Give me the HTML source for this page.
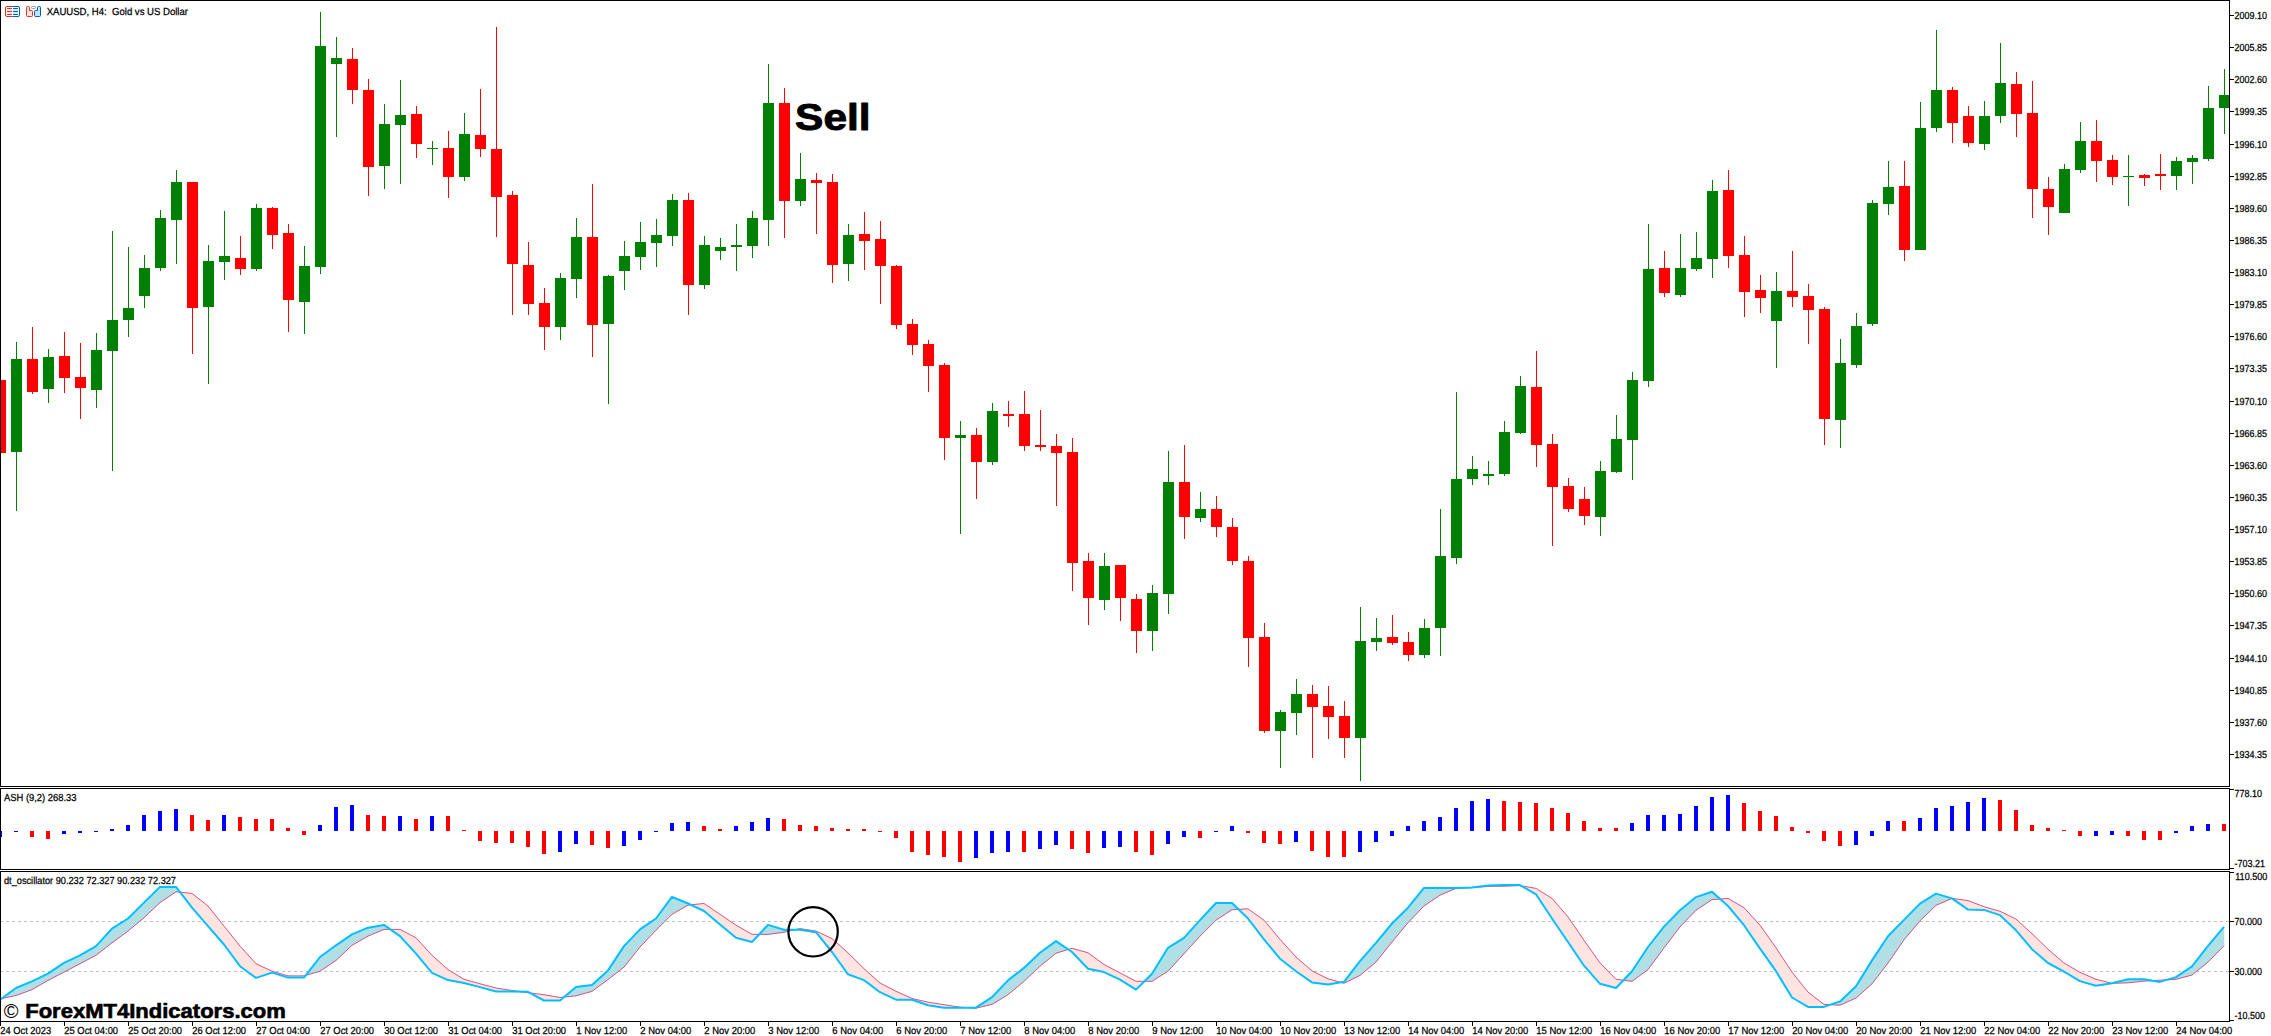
<!DOCTYPE html>
<html lang="en"><head><meta charset="utf-8"><title>XAUUSD H4 - ASH and dt_oscillator</title>
<style>html,body{margin:0;padding:0;background:#fff}body{width:2271px;height:1036px;overflow:hidden}svg{display:block}text{font-family:"Liberation Sans",sans-serif;fill:#000}.s{text-rendering:geometricPrecision;font-size:10.2px;stroke:#000;stroke-width:.25px}.g{fill:#008000}.r{fill:#ff0000}.b{fill:#0000ff}</style></head><body>
<svg width="2271" height="1036" viewBox="0 0 2271 1036">
<rect width="2271" height="1036" fill="#fff"/>
<defs><clipPath id="cm"><rect x="1" y="1" width="2228" height="785"/></clipPath><clipPath id="ca"><rect x="1" y="789" width="2228" height="80"/></clipPath><clipPath id="cd"><rect x="1" y="872" width="2228" height="149"/></clipPath></defs>
<g clip-path="url(#cm)" shape-rendering="crispEdges">
<rect class="r" x="0" y="380" width="1" height="73"/>
<rect class="r" x="-5" y="380" width="11" height="73"/>
<rect class="g" x="16" y="342" width="1" height="169"/>
<rect class="g" x="11" y="359" width="11" height="93"/>
<rect class="r" x="32" y="327" width="1" height="67"/>
<rect class="r" x="27" y="359" width="11" height="33"/>
<rect class="g" x="48" y="349" width="1" height="54"/>
<rect class="g" x="43" y="357" width="11" height="32"/>
<rect class="r" x="64" y="332" width="1" height="61"/>
<rect class="r" x="59" y="356" width="11" height="22"/>
<rect class="r" x="80" y="343" width="1" height="76"/>
<rect class="r" x="75" y="377" width="11" height="11"/>
<rect class="g" x="96" y="333" width="1" height="75"/>
<rect class="g" x="91" y="350" width="11" height="40"/>
<rect class="g" x="112" y="231" width="1" height="240"/>
<rect class="g" x="107" y="320" width="11" height="31"/>
<rect class="g" x="128" y="247" width="1" height="90"/>
<rect class="g" x="123" y="308" width="11" height="12"/>
<rect class="g" x="144" y="255" width="1" height="53"/>
<rect class="g" x="139" y="268" width="11" height="28"/>
<rect class="g" x="160" y="210" width="1" height="61"/>
<rect class="g" x="155" y="218" width="11" height="50"/>
<rect class="g" x="176" y="170" width="1" height="94"/>
<rect class="g" x="171" y="182" width="11" height="38"/>
<rect class="r" x="192" y="182" width="1" height="172"/>
<rect class="r" x="187" y="182" width="11" height="126"/>
<rect class="g" x="208" y="245" width="1" height="139"/>
<rect class="g" x="203" y="261" width="11" height="46"/>
<rect class="g" x="224" y="211" width="1" height="69"/>
<rect class="g" x="219" y="256" width="11" height="6"/>
<rect class="r" x="240" y="236" width="1" height="39"/>
<rect class="r" x="235" y="258" width="11" height="11"/>
<rect class="g" x="256" y="204" width="1" height="67"/>
<rect class="g" x="251" y="208" width="11" height="61"/>
<rect class="r" x="272" y="207" width="1" height="42"/>
<rect class="r" x="267" y="208" width="11" height="27"/>
<rect class="r" x="288" y="224" width="1" height="108"/>
<rect class="r" x="283" y="233" width="11" height="67"/>
<rect class="g" x="304" y="246" width="1" height="88"/>
<rect class="g" x="299" y="266" width="11" height="36"/>
<rect class="g" x="320" y="12" width="1" height="262"/>
<rect class="g" x="315" y="46" width="11" height="221"/>
<rect class="g" x="336" y="37" width="1" height="100"/>
<rect class="g" x="331" y="58" width="11" height="6"/>
<rect class="r" x="352" y="48" width="1" height="56"/>
<rect class="r" x="347" y="59" width="11" height="31"/>
<rect class="r" x="368" y="79" width="1" height="117"/>
<rect class="r" x="363" y="90" width="11" height="77"/>
<rect class="g" x="384" y="104" width="1" height="85"/>
<rect class="g" x="379" y="124" width="11" height="42"/>
<rect class="g" x="400" y="80" width="1" height="104"/>
<rect class="g" x="395" y="115" width="11" height="10"/>
<rect class="r" x="416" y="106" width="1" height="52"/>
<rect class="r" x="411" y="114" width="11" height="30"/>
<rect class="g" x="432" y="141" width="1" height="24"/>
<rect class="g" x="427" y="148" width="11" height="1"/>
<rect class="r" x="448" y="131" width="1" height="67"/>
<rect class="r" x="443" y="148" width="11" height="29"/>
<rect class="g" x="464" y="113" width="1" height="68"/>
<rect class="g" x="459" y="134" width="11" height="43"/>
<rect class="r" x="480" y="89" width="1" height="68"/>
<rect class="r" x="475" y="135" width="11" height="14"/>
<rect class="r" x="496" y="27" width="1" height="210"/>
<rect class="r" x="491" y="149" width="11" height="48"/>
<rect class="r" x="512" y="191" width="1" height="124"/>
<rect class="r" x="507" y="195" width="11" height="69"/>
<rect class="r" x="528" y="242" width="1" height="73"/>
<rect class="r" x="523" y="265" width="11" height="39"/>
<rect class="r" x="544" y="288" width="1" height="62"/>
<rect class="r" x="539" y="303" width="11" height="24"/>
<rect class="g" x="560" y="273" width="1" height="67"/>
<rect class="g" x="555" y="278" width="11" height="49"/>
<rect class="g" x="576" y="218" width="1" height="80"/>
<rect class="g" x="571" y="237" width="11" height="42"/>
<rect class="r" x="592" y="184" width="1" height="173"/>
<rect class="r" x="587" y="237" width="11" height="88"/>
<rect class="g" x="608" y="275" width="1" height="129"/>
<rect class="g" x="603" y="276" width="11" height="48"/>
<rect class="g" x="624" y="241" width="1" height="49"/>
<rect class="g" x="619" y="256" width="11" height="15"/>
<rect class="g" x="640" y="222" width="1" height="48"/>
<rect class="g" x="635" y="242" width="11" height="15"/>
<rect class="g" x="656" y="219" width="1" height="48"/>
<rect class="g" x="651" y="235" width="11" height="8"/>
<rect class="g" x="672" y="194" width="1" height="52"/>
<rect class="g" x="667" y="200" width="11" height="36"/>
<rect class="r" x="688" y="193" width="1" height="122"/>
<rect class="r" x="683" y="200" width="11" height="85"/>
<rect class="g" x="704" y="236" width="1" height="53"/>
<rect class="g" x="699" y="245" width="11" height="40"/>
<rect class="g" x="720" y="238" width="1" height="22"/>
<rect class="g" x="715" y="247" width="11" height="4"/>
<rect class="g" x="736" y="224" width="1" height="47"/>
<rect class="g" x="731" y="245" width="11" height="2"/>
<rect class="g" x="752" y="211" width="1" height="47"/>
<rect class="g" x="747" y="218" width="11" height="28"/>
<rect class="g" x="768" y="64" width="1" height="182"/>
<rect class="g" x="763" y="103" width="11" height="117"/>
<rect class="r" x="784" y="88" width="1" height="150"/>
<rect class="r" x="779" y="103" width="11" height="98"/>
<rect class="g" x="800" y="153" width="1" height="53"/>
<rect class="g" x="795" y="179" width="11" height="22"/>
<rect class="r" x="816" y="173" width="1" height="61"/>
<rect class="r" x="811" y="180" width="11" height="3"/>
<rect class="r" x="832" y="174" width="1" height="109"/>
<rect class="r" x="827" y="182" width="11" height="83"/>
<rect class="g" x="848" y="224" width="1" height="57"/>
<rect class="g" x="843" y="235" width="11" height="29"/>
<rect class="r" x="864" y="212" width="1" height="58"/>
<rect class="r" x="859" y="234" width="11" height="7"/>
<rect class="r" x="880" y="221" width="1" height="83"/>
<rect class="r" x="875" y="239" width="11" height="27"/>
<rect class="r" x="896" y="265" width="1" height="64"/>
<rect class="r" x="891" y="266" width="11" height="59"/>
<rect class="r" x="912" y="319" width="1" height="36"/>
<rect class="r" x="907" y="324" width="11" height="21"/>
<rect class="r" x="928" y="340" width="1" height="52"/>
<rect class="r" x="923" y="344" width="11" height="22"/>
<rect class="r" x="944" y="363" width="1" height="97"/>
<rect class="r" x="939" y="365" width="11" height="73"/>
<rect class="g" x="960" y="421" width="1" height="113"/>
<rect class="g" x="955" y="435" width="11" height="3"/>
<rect class="r" x="976" y="428" width="1" height="71"/>
<rect class="r" x="971" y="435" width="11" height="27"/>
<rect class="g" x="992" y="403" width="1" height="62"/>
<rect class="g" x="987" y="411" width="11" height="51"/>
<rect class="r" x="1008" y="401" width="1" height="26"/>
<rect class="r" x="1003" y="414" width="11" height="2"/>
<rect class="r" x="1024" y="391" width="1" height="60"/>
<rect class="r" x="1019" y="414" width="11" height="32"/>
<rect class="r" x="1040" y="410" width="1" height="41"/>
<rect class="r" x="1035" y="445" width="11" height="2"/>
<rect class="r" x="1056" y="434" width="1" height="72"/>
<rect class="r" x="1051" y="446" width="11" height="7"/>
<rect class="r" x="1072" y="438" width="1" height="153"/>
<rect class="r" x="1067" y="452" width="11" height="111"/>
<rect class="r" x="1088" y="553" width="1" height="72"/>
<rect class="r" x="1083" y="561" width="11" height="37"/>
<rect class="g" x="1104" y="553" width="1" height="57"/>
<rect class="g" x="1099" y="566" width="11" height="34"/>
<rect class="r" x="1120" y="565" width="1" height="56"/>
<rect class="r" x="1115" y="565" width="11" height="33"/>
<rect class="r" x="1136" y="594" width="1" height="59"/>
<rect class="r" x="1131" y="599" width="11" height="32"/>
<rect class="g" x="1152" y="585" width="1" height="66"/>
<rect class="g" x="1147" y="593" width="11" height="38"/>
<rect class="g" x="1168" y="451" width="1" height="163"/>
<rect class="g" x="1163" y="482" width="11" height="112"/>
<rect class="r" x="1184" y="445" width="1" height="94"/>
<rect class="r" x="1179" y="482" width="11" height="35"/>
<rect class="g" x="1200" y="492" width="1" height="30"/>
<rect class="g" x="1195" y="509" width="11" height="9"/>
<rect class="r" x="1216" y="496" width="1" height="41"/>
<rect class="r" x="1211" y="509" width="11" height="18"/>
<rect class="r" x="1232" y="518" width="1" height="47"/>
<rect class="r" x="1227" y="527" width="11" height="34"/>
<rect class="r" x="1248" y="556" width="1" height="111"/>
<rect class="r" x="1243" y="561" width="11" height="77"/>
<rect class="r" x="1264" y="623" width="1" height="110"/>
<rect class="r" x="1259" y="637" width="11" height="94"/>
<rect class="g" x="1280" y="710" width="1" height="58"/>
<rect class="g" x="1275" y="712" width="11" height="19"/>
<rect class="g" x="1296" y="679" width="1" height="56"/>
<rect class="g" x="1291" y="694" width="11" height="19"/>
<rect class="r" x="1312" y="685" width="1" height="73"/>
<rect class="r" x="1307" y="694" width="11" height="13"/>
<rect class="r" x="1328" y="686" width="1" height="53"/>
<rect class="r" x="1323" y="706" width="11" height="11"/>
<rect class="r" x="1344" y="701" width="1" height="57"/>
<rect class="r" x="1339" y="716" width="11" height="22"/>
<rect class="g" x="1360" y="607" width="1" height="174"/>
<rect class="g" x="1355" y="641" width="11" height="97"/>
<rect class="g" x="1376" y="618" width="1" height="33"/>
<rect class="g" x="1371" y="638" width="11" height="4"/>
<rect class="r" x="1392" y="615" width="1" height="30"/>
<rect class="r" x="1387" y="637" width="11" height="6"/>
<rect class="r" x="1408" y="632" width="1" height="29"/>
<rect class="r" x="1403" y="642" width="11" height="13"/>
<rect class="g" x="1424" y="619" width="1" height="39"/>
<rect class="g" x="1419" y="628" width="11" height="27"/>
<rect class="g" x="1440" y="509" width="1" height="147"/>
<rect class="g" x="1435" y="556" width="11" height="72"/>
<rect class="g" x="1456" y="392" width="1" height="172"/>
<rect class="g" x="1451" y="479" width="11" height="79"/>
<rect class="g" x="1472" y="456" width="1" height="29"/>
<rect class="g" x="1467" y="469" width="11" height="10"/>
<rect class="g" x="1488" y="461" width="1" height="24"/>
<rect class="g" x="1483" y="474" width="11" height="2"/>
<rect class="g" x="1504" y="421" width="1" height="55"/>
<rect class="g" x="1499" y="432" width="11" height="42"/>
<rect class="g" x="1520" y="376" width="1" height="58"/>
<rect class="g" x="1515" y="386" width="11" height="47"/>
<rect class="r" x="1536" y="351" width="1" height="116"/>
<rect class="r" x="1531" y="387" width="11" height="58"/>
<rect class="r" x="1552" y="434" width="1" height="112"/>
<rect class="r" x="1547" y="444" width="11" height="43"/>
<rect class="r" x="1568" y="478" width="1" height="34"/>
<rect class="r" x="1563" y="486" width="11" height="23"/>
<rect class="r" x="1584" y="487" width="1" height="38"/>
<rect class="r" x="1579" y="499" width="11" height="17"/>
<rect class="g" x="1600" y="461" width="1" height="75"/>
<rect class="g" x="1595" y="471" width="11" height="46"/>
<rect class="g" x="1616" y="415" width="1" height="58"/>
<rect class="g" x="1611" y="439" width="11" height="33"/>
<rect class="g" x="1632" y="372" width="1" height="108"/>
<rect class="g" x="1627" y="380" width="11" height="60"/>
<rect class="g" x="1648" y="224" width="1" height="163"/>
<rect class="g" x="1643" y="269" width="11" height="112"/>
<rect class="r" x="1664" y="251" width="1" height="46"/>
<rect class="r" x="1659" y="268" width="11" height="25"/>
<rect class="g" x="1680" y="234" width="1" height="63"/>
<rect class="g" x="1675" y="268" width="11" height="27"/>
<rect class="g" x="1696" y="232" width="1" height="39"/>
<rect class="g" x="1691" y="258" width="11" height="11"/>
<rect class="g" x="1712" y="180" width="1" height="98"/>
<rect class="g" x="1707" y="191" width="11" height="68"/>
<rect class="r" x="1728" y="170" width="1" height="98"/>
<rect class="r" x="1723" y="190" width="11" height="66"/>
<rect class="r" x="1744" y="236" width="1" height="81"/>
<rect class="r" x="1739" y="255" width="11" height="37"/>
<rect class="r" x="1760" y="275" width="1" height="38"/>
<rect class="r" x="1755" y="290" width="11" height="8"/>
<rect class="g" x="1776" y="272" width="1" height="96"/>
<rect class="g" x="1771" y="291" width="11" height="30"/>
<rect class="r" x="1792" y="251" width="1" height="56"/>
<rect class="r" x="1787" y="291" width="11" height="6"/>
<rect class="r" x="1808" y="284" width="1" height="60"/>
<rect class="r" x="1803" y="296" width="11" height="14"/>
<rect class="r" x="1824" y="307" width="1" height="138"/>
<rect class="r" x="1819" y="309" width="11" height="110"/>
<rect class="g" x="1840" y="339" width="1" height="109"/>
<rect class="g" x="1835" y="363" width="11" height="57"/>
<rect class="g" x="1856" y="313" width="1" height="55"/>
<rect class="g" x="1851" y="326" width="11" height="39"/>
<rect class="g" x="1872" y="200" width="1" height="126"/>
<rect class="g" x="1867" y="203" width="11" height="121"/>
<rect class="g" x="1888" y="161" width="1" height="54"/>
<rect class="g" x="1883" y="187" width="11" height="17"/>
<rect class="r" x="1904" y="161" width="1" height="100"/>
<rect class="r" x="1899" y="186" width="11" height="64"/>
<rect class="g" x="1920" y="102" width="1" height="148"/>
<rect class="g" x="1915" y="128" width="11" height="122"/>
<rect class="g" x="1936" y="30" width="1" height="102"/>
<rect class="g" x="1931" y="90" width="11" height="38"/>
<rect class="r" x="1952" y="87" width="1" height="56"/>
<rect class="r" x="1947" y="90" width="11" height="33"/>
<rect class="r" x="1968" y="106" width="1" height="41"/>
<rect class="r" x="1963" y="116" width="11" height="27"/>
<rect class="g" x="1984" y="101" width="1" height="49"/>
<rect class="g" x="1979" y="116" width="11" height="28"/>
<rect class="g" x="2000" y="43" width="1" height="80"/>
<rect class="g" x="1995" y="83" width="11" height="33"/>
<rect class="r" x="2016" y="72" width="1" height="65"/>
<rect class="r" x="2011" y="84" width="11" height="30"/>
<rect class="r" x="2032" y="81" width="1" height="137"/>
<rect class="r" x="2027" y="113" width="11" height="76"/>
<rect class="r" x="2048" y="177" width="1" height="58"/>
<rect class="r" x="2043" y="189" width="11" height="18"/>
<rect class="g" x="2064" y="164" width="1" height="49"/>
<rect class="g" x="2059" y="169" width="11" height="44"/>
<rect class="g" x="2080" y="122" width="1" height="51"/>
<rect class="g" x="2075" y="141" width="11" height="29"/>
<rect class="r" x="2096" y="120" width="1" height="62"/>
<rect class="r" x="2091" y="141" width="11" height="20"/>
<rect class="r" x="2112" y="155" width="1" height="30"/>
<rect class="r" x="2107" y="160" width="11" height="17"/>
<rect class="g" x="2128" y="155" width="1" height="51"/>
<rect class="g" x="2123" y="176" width="11" height="1"/>
<rect class="r" x="2144" y="174" width="1" height="12"/>
<rect class="r" x="2139" y="175" width="11" height="3"/>
<rect class="r" x="2160" y="154" width="1" height="36"/>
<rect class="r" x="2155" y="174" width="11" height="2"/>
<rect class="g" x="2176" y="157" width="1" height="33"/>
<rect class="g" x="2171" y="161" width="11" height="15"/>
<rect class="g" x="2192" y="155" width="1" height="29"/>
<rect class="g" x="2187" y="158" width="11" height="4"/>
<rect class="g" x="2208" y="86" width="1" height="75"/>
<rect class="g" x="2203" y="108" width="11" height="51"/>
<rect class="g" x="2224" y="69" width="1" height="65"/>
<rect class="g" x="2219" y="95" width="11" height="13"/>
</g>
<text x="795.1" y="129.9" font-size="36.8" font-weight="bold" textLength="75.6" lengthAdjust="spacingAndGlyphs" stroke="#000" stroke-width="0.9" stroke-linejoin="round">Sell</text>
<g clip-path="url(#ca)" shape-rendering="crispEdges">
<rect class="b" x="-2" y="831" width="4" height="6"/>
<rect class="b" x="14" y="831" width="4" height="1"/>
<rect class="r" x="30" y="831" width="4" height="6"/>
<rect class="r" x="46" y="831" width="4" height="8"/>
<rect class="b" x="62" y="831" width="4" height="3"/>
<rect class="b" x="78" y="831" width="4" height="2"/>
<rect class="b" x="94" y="831" width="4" height="1"/>
<rect class="b" x="110" y="829" width="4" height="2"/>
<rect class="b" x="126" y="825" width="4" height="6"/>
<rect class="b" x="142" y="815" width="4" height="16"/>
<rect class="b" x="158" y="811" width="4" height="20"/>
<rect class="b" x="174" y="809" width="4" height="22"/>
<rect class="r" x="190" y="815" width="4" height="16"/>
<rect class="r" x="206" y="820" width="4" height="11"/>
<rect class="b" x="222" y="815" width="4" height="16"/>
<rect class="r" x="238" y="817" width="4" height="14"/>
<rect class="r" x="254" y="819" width="4" height="12"/>
<rect class="r" x="270" y="819" width="4" height="12"/>
<rect class="r" x="286" y="828" width="4" height="3"/>
<rect class="r" x="302" y="831" width="4" height="4"/>
<rect class="b" x="318" y="825" width="4" height="6"/>
<rect class="b" x="334" y="807" width="4" height="24"/>
<rect class="b" x="350" y="805" width="4" height="26"/>
<rect class="r" x="366" y="815" width="4" height="16"/>
<rect class="r" x="382" y="816" width="4" height="15"/>
<rect class="b" x="398" y="816" width="4" height="15"/>
<rect class="r" x="414" y="819" width="4" height="12"/>
<rect class="b" x="430" y="816" width="4" height="15"/>
<rect class="r" x="446" y="816" width="4" height="15"/>
<rect class="r" x="462" y="830" width="4" height="1"/>
<rect class="r" x="478" y="831" width="4" height="10"/>
<rect class="r" x="494" y="831" width="4" height="12"/>
<rect class="r" x="510" y="831" width="4" height="12"/>
<rect class="r" x="526" y="831" width="4" height="16"/>
<rect class="r" x="542" y="831" width="4" height="23"/>
<rect class="b" x="558" y="831" width="4" height="21"/>
<rect class="b" x="574" y="831" width="4" height="13"/>
<rect class="r" x="590" y="831" width="4" height="14"/>
<rect class="r" x="606" y="831" width="4" height="17"/>
<rect class="b" x="622" y="831" width="4" height="15"/>
<rect class="b" x="638" y="831" width="4" height="9"/>
<rect class="b" x="654" y="831" width="4" height="1"/>
<rect class="b" x="670" y="823" width="4" height="8"/>
<rect class="b" x="686" y="822" width="4" height="9"/>
<rect class="r" x="702" y="826" width="4" height="5"/>
<rect class="r" x="718" y="829" width="4" height="2"/>
<rect class="b" x="734" y="826" width="4" height="5"/>
<rect class="b" x="750" y="822" width="4" height="9"/>
<rect class="b" x="766" y="818" width="4" height="13"/>
<rect class="r" x="782" y="819" width="4" height="12"/>
<rect class="r" x="798" y="825" width="4" height="6"/>
<rect class="r" x="814" y="826" width="4" height="5"/>
<rect class="r" x="830" y="828" width="4" height="3"/>
<rect class="r" x="846" y="829" width="4" height="2"/>
<rect class="r" x="862" y="829" width="4" height="2"/>
<rect class="r" x="878" y="831" width="4" height="1"/>
<rect class="r" x="894" y="831" width="4" height="7"/>
<rect class="r" x="910" y="831" width="4" height="21"/>
<rect class="r" x="926" y="831" width="4" height="24"/>
<rect class="r" x="942" y="831" width="4" height="26"/>
<rect class="r" x="958" y="831" width="4" height="31"/>
<rect class="b" x="974" y="831" width="4" height="27"/>
<rect class="b" x="990" y="831" width="4" height="22"/>
<rect class="b" x="1006" y="831" width="4" height="21"/>
<rect class="r" x="1022" y="831" width="4" height="21"/>
<rect class="b" x="1038" y="831" width="4" height="18"/>
<rect class="b" x="1054" y="831" width="4" height="14"/>
<rect class="r" x="1070" y="831" width="4" height="18"/>
<rect class="r" x="1086" y="831" width="4" height="22"/>
<rect class="b" x="1102" y="831" width="4" height="17"/>
<rect class="b" x="1118" y="831" width="4" height="16"/>
<rect class="r" x="1134" y="831" width="4" height="21"/>
<rect class="r" x="1150" y="831" width="4" height="24"/>
<rect class="b" x="1166" y="831" width="4" height="13"/>
<rect class="b" x="1182" y="831" width="4" height="6"/>
<rect class="r" x="1198" y="831" width="4" height="7"/>
<rect class="b" x="1214" y="831" width="4" height="1"/>
<rect class="b" x="1230" y="826" width="4" height="5"/>
<rect class="r" x="1246" y="831" width="4" height="2"/>
<rect class="r" x="1262" y="831" width="4" height="12"/>
<rect class="r" x="1278" y="831" width="4" height="13"/>
<rect class="b" x="1294" y="831" width="4" height="11"/>
<rect class="r" x="1310" y="831" width="4" height="20"/>
<rect class="r" x="1326" y="831" width="4" height="26"/>
<rect class="r" x="1342" y="831" width="4" height="26"/>
<rect class="b" x="1358" y="831" width="4" height="21"/>
<rect class="b" x="1374" y="831" width="4" height="11"/>
<rect class="b" x="1390" y="831" width="4" height="5"/>
<rect class="b" x="1406" y="826" width="4" height="5"/>
<rect class="b" x="1422" y="821" width="4" height="10"/>
<rect class="b" x="1438" y="817" width="4" height="14"/>
<rect class="b" x="1454" y="808" width="4" height="23"/>
<rect class="b" x="1470" y="801" width="4" height="30"/>
<rect class="b" x="1486" y="799" width="4" height="32"/>
<rect class="r" x="1502" y="801" width="4" height="30"/>
<rect class="r" x="1518" y="802" width="4" height="29"/>
<rect class="r" x="1534" y="803" width="4" height="28"/>
<rect class="r" x="1550" y="808" width="4" height="23"/>
<rect class="r" x="1566" y="813" width="4" height="18"/>
<rect class="r" x="1582" y="821" width="4" height="10"/>
<rect class="r" x="1598" y="828" width="4" height="3"/>
<rect class="r" x="1614" y="828" width="4" height="3"/>
<rect class="b" x="1630" y="823" width="4" height="8"/>
<rect class="b" x="1646" y="815" width="4" height="16"/>
<rect class="b" x="1662" y="815" width="4" height="16"/>
<rect class="b" x="1678" y="814" width="4" height="17"/>
<rect class="b" x="1694" y="806" width="4" height="25"/>
<rect class="b" x="1710" y="797" width="4" height="34"/>
<rect class="b" x="1726" y="795" width="4" height="36"/>
<rect class="r" x="1742" y="803" width="4" height="28"/>
<rect class="r" x="1758" y="811" width="4" height="20"/>
<rect class="r" x="1774" y="816" width="4" height="15"/>
<rect class="r" x="1790" y="827" width="4" height="4"/>
<rect class="r" x="1806" y="831" width="4" height="2"/>
<rect class="r" x="1822" y="831" width="4" height="10"/>
<rect class="r" x="1838" y="831" width="4" height="15"/>
<rect class="b" x="1854" y="831" width="4" height="14"/>
<rect class="b" x="1870" y="831" width="4" height="5"/>
<rect class="b" x="1886" y="821" width="4" height="10"/>
<rect class="r" x="1902" y="821" width="4" height="10"/>
<rect class="b" x="1918" y="818" width="4" height="13"/>
<rect class="b" x="1934" y="808" width="4" height="23"/>
<rect class="b" x="1950" y="806" width="4" height="25"/>
<rect class="b" x="1966" y="802" width="4" height="29"/>
<rect class="b" x="1982" y="798" width="4" height="33"/>
<rect class="r" x="1998" y="800" width="4" height="31"/>
<rect class="r" x="2014" y="810" width="4" height="21"/>
<rect class="r" x="2030" y="825" width="4" height="6"/>
<rect class="r" x="2046" y="828" width="4" height="3"/>
<rect class="r" x="2062" y="830" width="4" height="1"/>
<rect class="r" x="2078" y="831" width="4" height="5"/>
<rect class="b" x="2094" y="831" width="4" height="5"/>
<rect class="b" x="2110" y="831" width="4" height="4"/>
<rect class="r" x="2126" y="831" width="4" height="5"/>
<rect class="r" x="2142" y="831" width="4" height="9"/>
<rect class="r" x="2158" y="831" width="4" height="9"/>
<rect class="b" x="2174" y="831" width="4" height="2"/>
<rect class="b" x="2190" y="826" width="4" height="5"/>
<rect class="b" x="2206" y="824" width="4" height="7"/>
<rect class="r" x="2222" y="824" width="4" height="7"/>
</g>
<g clip-path="url(#cd)">
<line x1="0" y1="921.5" x2="2229" y2="921.5" stroke="#c0c0c0" stroke-width="1" stroke-dasharray="3 3" shape-rendering="crispEdges"/>
<line x1="0" y1="971.5" x2="2229" y2="971.5" stroke="#c0c0c0" stroke-width="1" stroke-dasharray="3 3" shape-rendering="crispEdges"/>
<path d="M1.6 998.5 L16.0 988.0 L16.0 995.5Z M16.0 988.0 L32.0 981.3 L32.0 989.6 L16.0 995.5Z M32.0 981.3 L48.0 973.7 L48.0 980.4 L32.0 989.6Z M48.0 973.7 L64.0 962.9 L64.0 972.1 L48.0 980.4Z M64.0 962.9 L80.0 955.3 L80.0 963.7 L64.0 972.1Z M80.0 955.3 L96.0 946.1 L96.0 955.3 L80.0 963.7Z M96.0 946.1 L112.0 928.6 L112.0 942.8 L96.0 955.3Z M112.0 928.6 L128.0 918.5 L128.0 931.1 L112.0 942.8Z M128.0 918.5 L144.0 902.6 L144.0 917.7 L128.0 931.1Z M144.0 902.6 L160.0 886.9 L160.0 902.6 L144.0 917.7Z M160.0 886.9 L176.0 886.9 L176.0 891.8 L160.0 902.6Z M176.0 886.9 L180.1 892.2 L176.0 891.8Z M305.7 975.4 L320.0 957.0 L320.0 971.2Z M320.0 957.0 L336.0 945.3 L336.0 960.4 L320.0 971.2Z M336.0 945.3 L352.0 934.4 L352.0 945.3 L336.0 960.4Z M352.0 934.4 L368.0 927.7 L368.0 936.1 L352.0 945.3Z M368.0 927.7 L384.0 924.9 L384.0 929.4 L368.0 936.1Z M384.0 924.9 L390.4 929.4 L384.0 929.4Z M520.7 991.7 L528.0 991.8 L528.0 992.7Z M528.0 991.8 L530.0 992.9 L528.0 992.7Z M564.1 997.1 L576.0 987.1 L576.0 995.8Z M576.0 987.1 L592.0 985.1 L592.0 991.3 L576.0 995.8Z M592.0 985.1 L608.0 970.4 L608.0 979.6 L592.0 991.3Z M608.0 970.4 L624.0 946.1 L624.0 967.1 L608.0 979.6Z M624.0 946.1 L640.0 929.4 L640.0 947.0 L624.0 967.1Z M640.0 929.4 L656.0 918.5 L656.0 930.2 L640.0 947.0Z M656.0 918.5 L672.0 896.8 L672.0 914.3 L656.0 930.2Z M672.0 896.8 L688.0 903.5 L688.0 905.1 L672.0 914.3Z M688.0 903.5 L690.9 904.8 L688.0 905.1Z M759.1 934.4 L768.0 924.9 L768.0 934.4Z M768.0 924.9 L784.0 929.7 L784.0 932.2 L768.0 934.4Z M784.0 929.7 L794.9 929.7 L784.0 932.2Z M969.6 1007.7 L976.0 1007.7 L976.0 1008.1Z M976.0 1007.7 L992.0 997.2 L992.0 1004.4 L976.0 1008.1Z M992.0 997.2 L1008.0 980.4 L1008.0 994.7 L992.0 1004.4Z M1008.0 980.4 L1024.0 967.9 L1024.0 981.3 L1008.0 994.7Z M1024.0 967.9 L1040.0 952.8 L1040.0 966.2 L1024.0 981.3Z M1040.0 952.8 L1056.0 941.1 L1056.0 953.2 L1040.0 966.2Z M1056.0 941.1 L1068.3 949.4 L1056.0 953.2Z M1144.4 981.3 L1152.0 973.7 L1152.0 981.3Z M1152.0 973.7 L1168.0 947.8 L1168.0 971.2 L1152.0 981.3Z M1168.0 947.8 L1184.0 937.8 L1184.0 953.7 L1168.0 971.2Z M1184.0 937.8 L1200.0 920.2 L1200.0 936.1 L1184.0 953.7Z M1200.0 920.2 L1216.0 903.0 L1216.0 920.2 L1200.0 936.1Z M1216.0 903.0 L1232.0 903.0 L1232.0 909.7 L1216.0 920.2Z M1232.0 903.0 L1238.5 909.3 L1232.0 909.7Z M1340.7 982.4 L1344.0 981.8 L1344.0 983.3Z M1344.0 981.8 L1360.0 961.2 L1360.0 975.4 L1344.0 983.3Z M1360.0 961.2 L1376.0 942.8 L1376.0 962.0 L1360.0 975.4Z M1376.0 942.8 L1392.0 923.5 L1392.0 942.0 L1376.0 962.0Z M1392.0 923.5 L1408.0 907.7 L1408.0 922.7 L1392.0 942.0Z M1408.0 907.7 L1424.0 887.9 L1424.0 906.0 L1408.0 922.7Z M1424.0 887.9 L1440.0 887.9 L1440.0 895.1 L1424.0 906.0Z M1440.0 887.9 L1456.0 887.9 L1456.0 888.4 L1440.0 895.1Z M1456.0 887.9 L1472.0 887.6 L1472.0 887.6 L1456.0 888.4Z M1472.0 887.6 L1488.0 885.6 L1488.0 886.4 L1472.0 887.6Z M1488.0 885.6 L1504.0 885.1 L1504.0 886.2 L1488.0 886.4Z M1504.0 885.1 L1520.0 885.1 L1520.0 885.6 L1504.0 886.2Z M1520.0 885.1 L1521.3 885.8 L1520.0 885.6Z M1623.4 980.2 L1632.0 971.2 L1632.0 981.3Z M1632.0 971.2 L1648.0 947.0 L1648.0 969.6 L1632.0 981.3Z M1648.0 947.0 L1664.0 926.6 L1664.0 947.8 L1648.0 969.6Z M1664.0 926.6 L1680.0 910.2 L1680.0 926.9 L1664.0 947.8Z M1680.0 910.2 L1696.0 897.1 L1696.0 910.2 L1680.0 926.9Z M1696.0 897.1 L1712.0 891.8 L1712.0 899.6 L1696.0 910.2Z M1712.0 891.8 L1720.2 899.0 L1712.0 899.6Z M1830.3 1004.7 L1840.0 1001.4 L1840.0 1005.2Z M1840.0 1001.4 L1856.0 986.3 L1856.0 998.0 L1840.0 1005.2Z M1856.0 986.3 L1872.0 960.4 L1872.0 983.8 L1856.0 998.0Z M1872.0 960.4 L1888.0 936.3 L1888.0 963.0 L1872.0 983.8Z M1888.0 936.3 L1904.0 919.9 L1904.0 939.7 L1888.0 963.0Z M1904.0 919.9 L1920.0 903.6 L1920.0 920.8 L1904.0 939.7Z M1920.0 903.6 L1936.0 893.6 L1936.0 905.3 L1920.0 920.8Z M1936.0 893.6 L1952.0 898.4 L1952.0 898.4 L1936.0 905.3Z M2112.0 983.3 L2128.0 979.3 L2128.0 982.8 L2112.0 983.3Z M2128.0 979.3 L2144.0 979.3 L2144.0 981.1 L2128.0 982.8Z M2144.0 979.3 L2152.0 980.6 L2144.0 981.1Z M2167.0 979.8 L2176.0 977.1 L2176.0 979.3Z M2176.0 977.1 L2192.0 966.4 L2192.0 975.0 L2176.0 979.3Z M2192.0 966.4 L2208.0 945.8 L2208.0 962.1 L2192.0 975.0Z M2208.0 945.8 L2224.0 926.8 L2224.0 945.8 L2208.0 962.1Z" fill="#b0e0e6" stroke="#b0e0e6" stroke-width="0.6"/>
<path d="M0.0 999.7 L1.6 998.5 L0.0 998.8Z M180.1 892.2 L192.0 907.7 L192.0 893.4Z M192.0 907.7 L208.0 926.1 L208.0 906.0 L192.0 893.4Z M208.0 926.1 L224.0 944.5 L224.0 926.1 L208.0 906.0Z M224.0 944.5 L240.0 966.2 L240.0 946.1 L224.0 926.1Z M240.0 966.2 L256.0 977.9 L256.0 963.7 L240.0 946.1Z M256.0 977.9 L272.0 972.6 L272.0 971.2 L256.0 963.7Z M272.0 972.6 L288.0 977.6 L288.0 975.9 L272.0 971.2Z M288.0 977.6 L304.0 977.6 L304.0 975.9 L288.0 975.9Z M304.0 977.6 L305.7 975.4 L304.0 975.9Z M390.4 929.4 L400.0 936.1 L400.0 929.4Z M400.0 936.1 L416.0 953.7 L416.0 937.8 L400.0 929.4Z M416.0 953.7 L432.0 972.9 L432.0 955.3 L416.0 937.8Z M432.0 972.9 L448.0 980.1 L448.0 969.6 L432.0 955.3Z M448.0 980.1 L464.0 983.0 L464.0 979.3 L448.0 969.6Z M464.0 983.0 L480.0 987.1 L480.0 983.8 L464.0 979.3Z M480.0 987.1 L496.0 991.5 L496.0 988.0 L480.0 983.8Z M496.0 991.5 L512.0 991.5 L512.0 990.5 L496.0 988.0Z M512.0 991.5 L520.7 991.7 L512.0 990.5Z M530.0 992.9 L544.0 1000.5 L544.0 994.7Z M544.0 1000.5 L560.0 1000.5 L560.0 997.5 L544.0 994.7Z M560.0 1000.5 L564.1 997.1 L560.0 997.5Z M690.9 904.8 L704.0 911.0 L704.0 903.5Z M704.0 911.0 L720.0 924.4 L720.0 914.3 L704.0 903.5Z M720.0 924.4 L736.0 937.8 L736.0 925.2 L720.0 914.3Z M736.0 937.8 L752.0 942.0 L752.0 934.4 L736.0 925.2Z M752.0 942.0 L759.1 934.4 L752.0 934.4Z M794.9 929.7 L800.0 929.7 L800.0 928.6Z M800.0 929.7 L816.0 932.2 L816.0 931.1 L800.0 928.6Z M816.0 932.2 L832.0 952.0 L832.0 938.6 L816.0 931.1Z M832.0 952.0 L848.0 974.3 L848.0 952.8 L832.0 938.6Z M848.0 974.3 L864.0 980.1 L864.0 968.7 L848.0 952.8Z M864.0 980.1 L880.0 992.2 L880.0 983.0 L864.0 968.7Z M880.0 992.2 L896.0 999.7 L896.0 991.3 L880.0 983.0Z M896.0 999.7 L912.0 999.7 L912.0 998.5 L896.0 991.3Z M912.0 999.7 L928.0 1005.2 L928.0 1002.2 L912.0 998.5Z M928.0 1005.2 L944.0 1007.7 L944.0 1004.7 L928.0 1002.2Z M944.0 1007.7 L960.0 1007.7 L960.0 1007.2 L944.0 1004.7Z M960.0 1007.7 L969.6 1007.7 L960.0 1007.2Z M1068.3 949.4 L1072.0 952.0 L1072.0 948.3Z M1072.0 952.0 L1088.0 968.7 L1088.0 952.8 L1072.0 948.3Z M1088.0 968.7 L1104.0 972.1 L1104.0 964.5 L1088.0 952.8Z M1104.0 972.1 L1120.0 979.6 L1120.0 972.9 L1104.0 964.5Z M1120.0 979.6 L1136.0 989.6 L1136.0 981.3 L1120.0 972.9Z M1136.0 989.6 L1144.4 981.3 L1136.0 981.3Z M1238.5 909.3 L1248.0 918.5 L1248.0 908.8Z M1248.0 918.5 L1264.0 939.4 L1264.0 920.2 L1248.0 908.8Z M1264.0 939.4 L1280.0 958.7 L1280.0 939.4 L1264.0 920.2Z M1280.0 958.7 L1296.0 971.2 L1296.0 957.0 L1280.0 939.4Z M1296.0 971.2 L1312.0 982.4 L1312.0 970.9 L1296.0 957.0Z M1312.0 982.4 L1328.0 984.6 L1328.0 978.8 L1312.0 970.9Z M1328.0 984.6 L1340.7 982.4 L1328.0 978.8Z M1521.3 885.8 L1536.0 894.3 L1536.0 888.4Z M1536.0 894.3 L1552.0 918.5 L1552.0 898.4 L1536.0 888.4Z M1552.0 918.5 L1568.0 942.0 L1568.0 916.9 L1552.0 898.4Z M1568.0 942.0 L1584.0 965.7 L1584.0 940.3 L1568.0 916.9Z M1584.0 965.7 L1600.0 983.8 L1600.0 962.9 L1584.0 940.3Z M1600.0 983.8 L1616.0 988.0 L1616.0 979.3 L1600.0 962.9Z M1616.0 988.0 L1623.4 980.2 L1616.0 979.3Z M1720.2 899.0 L1728.0 906.0 L1728.0 898.4Z M1728.0 906.0 L1744.0 925.2 L1744.0 907.7 L1728.0 898.4Z M1744.0 925.2 L1760.0 948.6 L1760.0 925.2 L1744.0 907.7Z M1760.0 948.6 L1776.0 971.2 L1776.0 947.8 L1760.0 925.2Z M1776.0 971.2 L1792.0 997.5 L1792.0 972.1 L1776.0 947.8Z M1792.0 997.5 L1808.0 1006.9 L1808.0 992.2 L1792.0 972.1Z M1808.0 1006.9 L1824.0 1006.9 L1824.0 1004.4 L1808.0 992.2Z M1824.0 1006.9 L1830.3 1004.7 L1824.0 1004.4Z M1952.0 898.4 L1968.0 909.6 L1968.0 900.6 L1952.0 898.4Z M1968.0 909.6 L1984.0 909.9 L1984.0 906.7 L1968.0 900.6Z M1984.0 909.9 L2000.0 915.1 L2000.0 911.3 L1984.0 906.7Z M2000.0 915.1 L2016.0 930.3 L2016.0 919.1 L2000.0 911.3Z M2016.0 930.3 L2032.0 949.2 L2032.0 933.7 L2016.0 919.1Z M2032.0 949.2 L2048.0 963.0 L2048.0 949.2 L2032.0 933.7Z M2048.0 963.0 L2064.0 971.6 L2064.0 963.0 L2048.0 949.2Z M2064.0 971.6 L2080.0 981.1 L2080.0 972.4 L2064.0 963.0Z M2080.0 981.1 L2096.0 985.7 L2096.0 979.3 L2080.0 972.4Z M2096.0 985.7 L2112.0 983.3 L2112.0 983.3 L2096.0 979.3Z M2152.0 980.6 L2160.0 981.9 L2160.0 980.2Z M2160.0 981.9 L2167.0 979.8 L2160.0 980.2Z" fill="#ffe4e1" stroke="#ffe4e1" stroke-width="0.6"/>
<polyline fill="none" stroke="#d9547f" stroke-width="1" points="0,998.8 16,995.5 32,989.6 48,980.4 64,972.1 80,963.7 96,955.3 112,942.8 128,931.1 144,917.7 160,902.6 176,891.8 192,893.4 208,906.0 224,926.1 240,946.1 256,963.7 272,971.2 288,975.9 304,975.9 320,971.2 336,960.4 352,945.3 368,936.1 384,929.4 400,929.4 416,937.8 432,955.3 448,969.6 464,979.3 480,983.8 496,988.0 512,990.5 528,992.7 544,994.7 560,997.5 576,995.8 592,991.3 608,979.6 624,967.1 640,947.0 656,930.2 672,914.3 688,905.1 704,903.5 720,914.3 736,925.2 752,934.4 768,934.4 784,932.2 800,928.6 816,931.1 832,938.6 848,952.8 864,968.7 880,983.0 896,991.3 912,998.5 928,1002.2 944,1004.7 960,1007.2 976,1008.1 992,1004.4 1008,994.7 1024,981.3 1040,966.2 1056,953.2 1072,948.3 1088,952.8 1104,964.5 1120,972.9 1136,981.3 1152,981.3 1168,971.2 1184,953.7 1200,936.1 1216,920.2 1232,909.7 1248,908.8 1264,920.2 1280,939.4 1296,957.0 1312,970.9 1328,978.8 1344,983.3 1360,975.4 1376,962.0 1392,942.0 1408,922.7 1424,906.0 1440,895.1 1456,888.4 1472,887.6 1488,886.4 1504,886.2 1520,885.6 1536,888.4 1552,898.4 1568,916.9 1584,940.3 1600,962.9 1616,979.3 1632,981.3 1648,969.6 1664,947.8 1680,926.9 1696,910.2 1712,899.6 1728,898.4 1744,907.7 1760,925.2 1776,947.8 1792,972.1 1808,992.2 1824,1004.4 1840,1005.2 1856,998.0 1872,983.8 1888,963.0 1904,939.7 1920,920.8 1936,905.3 1952,898.4 1968,900.6 1984,906.7 2000,911.3 2016,919.1 2032,933.7 2048,949.2 2064,963.0 2080,972.4 2096,979.3 2112,983.3 2128,982.8 2144,981.1 2160,980.2 2176,979.3 2192,975.0 2208,962.1 2224,945.8"/>
<polyline fill="none" stroke="#00bfff" stroke-width="2" stroke-linejoin="round" points="0,999.7 16,988.0 32,981.3 48,973.7 64,962.9 80,955.3 96,946.1 112,928.6 128,918.5 144,902.6 160,886.9 176,886.9 192,907.7 208,926.1 224,944.5 240,966.2 256,977.9 272,972.6 288,977.6 304,977.6 320,957.0 336,945.3 352,934.4 368,927.7 384,924.9 400,936.1 416,953.7 432,972.9 448,980.1 464,983.0 480,987.1 496,991.5 512,991.5 528,991.8 544,1000.5 560,1000.5 576,987.1 592,985.1 608,970.4 624,946.1 640,929.4 656,918.5 672,896.8 688,903.5 704,911.0 720,924.4 736,937.8 752,942.0 768,924.9 784,929.7 800,929.7 816,932.2 832,952.0 848,974.3 864,980.1 880,992.2 896,999.7 912,999.7 928,1005.2 944,1007.7 960,1007.7 976,1007.7 992,997.2 1008,980.4 1024,967.9 1040,952.8 1056,941.1 1072,952.0 1088,968.7 1104,972.1 1120,979.6 1136,989.6 1152,973.7 1168,947.8 1184,937.8 1200,920.2 1216,903.0 1232,903.0 1248,918.5 1264,939.4 1280,958.7 1296,971.2 1312,982.4 1328,984.6 1344,981.8 1360,961.2 1376,942.8 1392,923.5 1408,907.7 1424,887.9 1440,887.9 1456,887.9 1472,887.6 1488,885.6 1504,885.1 1520,885.1 1536,894.3 1552,918.5 1568,942.0 1584,965.7 1600,983.8 1616,988.0 1632,971.2 1648,947.0 1664,926.6 1680,910.2 1696,897.1 1712,891.8 1728,906.0 1744,925.2 1760,948.6 1776,971.2 1792,997.5 1808,1006.9 1824,1006.9 1840,1001.4 1856,986.3 1872,960.4 1888,936.3 1904,919.9 1920,903.6 1936,893.6 1952,898.4 1968,909.6 1984,909.9 2000,915.1 2016,930.3 2032,949.2 2048,963.0 2064,971.6 2080,981.1 2096,985.7 2112,983.3 2128,979.3 2144,979.3 2160,981.9 2176,977.1 2192,966.4 2208,945.8 2224,926.8"/>
</g>
<circle cx="813.1" cy="931.8" r="24.7" fill="none" stroke="#000" stroke-width="2.2"/>
<g fill="#000" shape-rendering="crispEdges">
<rect x="0" y="0" width="2230" height="1"/>
<rect x="0" y="0" width="1" height="1026"/>
<rect x="2229" y="0" width="1" height="1022"/>
<rect x="0" y="786" width="2230" height="1"/>
<rect x="0" y="787" width="2230" height="1" fill="#fff"/>
<rect x="0" y="788" width="2230" height="1"/>
<rect x="0" y="869" width="2230" height="1"/>
<rect x="0" y="870" width="2230" height="1" fill="#fff"/>
<rect x="0" y="871" width="2230" height="1"/>
<rect x="0" y="1021" width="2230" height="1"/>
<rect x="2230" y="15" width="4" height="1"/>
<rect x="2230" y="47" width="4" height="1"/>
<rect x="2230" y="79" width="4" height="1"/>
<rect x="2230" y="111" width="4" height="1"/>
<rect x="2230" y="144" width="4" height="1"/>
<rect x="2230" y="176" width="4" height="1"/>
<rect x="2230" y="208" width="4" height="1"/>
<rect x="2230" y="240" width="4" height="1"/>
<rect x="2230" y="272" width="4" height="1"/>
<rect x="2230" y="304" width="4" height="1"/>
<rect x="2230" y="336" width="4" height="1"/>
<rect x="2230" y="368" width="4" height="1"/>
<rect x="2230" y="401" width="4" height="1"/>
<rect x="2230" y="433" width="4" height="1"/>
<rect x="2230" y="465" width="4" height="1"/>
<rect x="2230" y="497" width="4" height="1"/>
<rect x="2230" y="529" width="4" height="1"/>
<rect x="2230" y="561" width="4" height="1"/>
<rect x="2230" y="593" width="4" height="1"/>
<rect x="2230" y="625" width="4" height="1"/>
<rect x="2230" y="658" width="4" height="1"/>
<rect x="2230" y="690" width="4" height="1"/>
<rect x="2230" y="722" width="4" height="1"/>
<rect x="2230" y="754" width="4" height="1"/>
<rect x="2230" y="789" width="4" height="1"/>
<rect x="2230" y="868" width="4" height="1"/>
<rect x="2230" y="872" width="4" height="1"/>
<rect x="2230" y="921" width="4" height="1"/>
<rect x="2230" y="971" width="4" height="1"/>
<rect x="2230" y="1020" width="4" height="1"/>
<rect x="0" y="1022" width="1" height="4"/>
<rect x="64" y="1022" width="1" height="4"/>
<rect x="128" y="1022" width="1" height="4"/>
<rect x="192" y="1022" width="1" height="4"/>
<rect x="256" y="1022" width="1" height="4"/>
<rect x="320" y="1022" width="1" height="4"/>
<rect x="384" y="1022" width="1" height="4"/>
<rect x="448" y="1022" width="1" height="4"/>
<rect x="512" y="1022" width="1" height="4"/>
<rect x="576" y="1022" width="1" height="4"/>
<rect x="640" y="1022" width="1" height="4"/>
<rect x="704" y="1022" width="1" height="4"/>
<rect x="768" y="1022" width="1" height="4"/>
<rect x="832" y="1022" width="1" height="4"/>
<rect x="896" y="1022" width="1" height="4"/>
<rect x="960" y="1022" width="1" height="4"/>
<rect x="1024" y="1022" width="1" height="4"/>
<rect x="1088" y="1022" width="1" height="4"/>
<rect x="1152" y="1022" width="1" height="4"/>
<rect x="1216" y="1022" width="1" height="4"/>
<rect x="1280" y="1022" width="1" height="4"/>
<rect x="1344" y="1022" width="1" height="4"/>
<rect x="1408" y="1022" width="1" height="4"/>
<rect x="1472" y="1022" width="1" height="4"/>
<rect x="1536" y="1022" width="1" height="4"/>
<rect x="1600" y="1022" width="1" height="4"/>
<rect x="1664" y="1022" width="1" height="4"/>
<rect x="1728" y="1022" width="1" height="4"/>
<rect x="1792" y="1022" width="1" height="4"/>
<rect x="1856" y="1022" width="1" height="4"/>
<rect x="1920" y="1022" width="1" height="4"/>
<rect x="1984" y="1022" width="1" height="4"/>
<rect x="2048" y="1022" width="1" height="4"/>
<rect x="2112" y="1022" width="1" height="4"/>
<rect x="2176" y="1022" width="1" height="4"/>
</g>
<g class="s">
<text x="2234.6" y="18.9" textLength="32.4" lengthAdjust="spacingAndGlyphs">2009.10</text>
<text x="2234.6" y="50.9" textLength="32.4" lengthAdjust="spacingAndGlyphs">2005.85</text>
<text x="2234.6" y="82.9" textLength="32.4" lengthAdjust="spacingAndGlyphs">2002.60</text>
<text x="2234.6" y="114.9" textLength="32.4" lengthAdjust="spacingAndGlyphs">1999.35</text>
<text x="2234.6" y="147.9" textLength="32.4" lengthAdjust="spacingAndGlyphs">1996.10</text>
<text x="2234.6" y="179.9" textLength="32.4" lengthAdjust="spacingAndGlyphs">1992.85</text>
<text x="2234.6" y="211.9" textLength="32.4" lengthAdjust="spacingAndGlyphs">1989.60</text>
<text x="2234.6" y="243.9" textLength="32.4" lengthAdjust="spacingAndGlyphs">1986.35</text>
<text x="2234.6" y="275.9" textLength="32.4" lengthAdjust="spacingAndGlyphs">1983.10</text>
<text x="2234.6" y="307.9" textLength="32.4" lengthAdjust="spacingAndGlyphs">1979.85</text>
<text x="2234.6" y="339.9" textLength="32.4" lengthAdjust="spacingAndGlyphs">1976.60</text>
<text x="2234.6" y="371.9" textLength="32.4" lengthAdjust="spacingAndGlyphs">1973.35</text>
<text x="2234.6" y="404.9" textLength="32.4" lengthAdjust="spacingAndGlyphs">1970.10</text>
<text x="2234.6" y="436.9" textLength="32.4" lengthAdjust="spacingAndGlyphs">1966.85</text>
<text x="2234.6" y="468.9" textLength="32.4" lengthAdjust="spacingAndGlyphs">1963.60</text>
<text x="2234.6" y="500.9" textLength="32.4" lengthAdjust="spacingAndGlyphs">1960.35</text>
<text x="2234.6" y="532.9" textLength="32.4" lengthAdjust="spacingAndGlyphs">1957.10</text>
<text x="2234.6" y="564.9" textLength="32.4" lengthAdjust="spacingAndGlyphs">1953.85</text>
<text x="2234.6" y="596.9" textLength="32.4" lengthAdjust="spacingAndGlyphs">1950.60</text>
<text x="2234.6" y="628.9" textLength="32.4" lengthAdjust="spacingAndGlyphs">1947.35</text>
<text x="2234.6" y="661.9" textLength="32.4" lengthAdjust="spacingAndGlyphs">1944.10</text>
<text x="2234.6" y="693.9" textLength="32.4" lengthAdjust="spacingAndGlyphs">1940.85</text>
<text x="2234.6" y="725.9" textLength="32.4" lengthAdjust="spacingAndGlyphs">1937.60</text>
<text x="2234.6" y="757.9" textLength="32.4" lengthAdjust="spacingAndGlyphs">1934.35</text>
<text x="2234.6" y="797" textLength="27.5" lengthAdjust="spacingAndGlyphs">778.10</text>
<text x="2234.6" y="867" textLength="30.4" lengthAdjust="spacingAndGlyphs">-703.21</text>
<text x="2235.2" y="880" textLength="32.2" lengthAdjust="spacingAndGlyphs">110.500</text>
<text x="2234.6" y="925" textLength="27.5" lengthAdjust="spacingAndGlyphs">70.000</text>
<text x="2234.6" y="975" textLength="27.5" lengthAdjust="spacingAndGlyphs">30.000</text>
<text x="2234.6" y="1019" textLength="30.4" lengthAdjust="spacingAndGlyphs">-10.500</text>
<text x="0.3" y="1034" textLength="50.8" lengthAdjust="spacingAndGlyphs">24 Oct 2023</text>
<text x="64.3" y="1034" textLength="53.8" lengthAdjust="spacingAndGlyphs">25 Oct 04:00</text>
<text x="128.3" y="1034" textLength="53.8" lengthAdjust="spacingAndGlyphs">25 Oct 20:00</text>
<text x="192.3" y="1034" textLength="53.8" lengthAdjust="spacingAndGlyphs">26 Oct 12:00</text>
<text x="256.3" y="1034" textLength="53.8" lengthAdjust="spacingAndGlyphs">27 Oct 04:00</text>
<text x="320.3" y="1034" textLength="53.8" lengthAdjust="spacingAndGlyphs">27 Oct 20:00</text>
<text x="384.3" y="1034" textLength="53.8" lengthAdjust="spacingAndGlyphs">30 Oct 12:00</text>
<text x="448.3" y="1034" textLength="53.8" lengthAdjust="spacingAndGlyphs">31 Oct 04:00</text>
<text x="512.3" y="1034" textLength="53.8" lengthAdjust="spacingAndGlyphs">31 Oct 20:00</text>
<text x="576.3" y="1034" textLength="51.0" lengthAdjust="spacingAndGlyphs">1 Nov 12:00</text>
<text x="640.3" y="1034" textLength="51.0" lengthAdjust="spacingAndGlyphs">2 Nov 04:00</text>
<text x="704.3" y="1034" textLength="51.0" lengthAdjust="spacingAndGlyphs">2 Nov 20:00</text>
<text x="768.3" y="1034" textLength="51.0" lengthAdjust="spacingAndGlyphs">3 Nov 12:00</text>
<text x="832.3" y="1034" textLength="51.0" lengthAdjust="spacingAndGlyphs">6 Nov 04:00</text>
<text x="896.3" y="1034" textLength="51.0" lengthAdjust="spacingAndGlyphs">6 Nov 20:00</text>
<text x="960.3" y="1034" textLength="51.0" lengthAdjust="spacingAndGlyphs">7 Nov 12:00</text>
<text x="1024.3" y="1034" textLength="51.0" lengthAdjust="spacingAndGlyphs">8 Nov 04:00</text>
<text x="1088.3" y="1034" textLength="51.0" lengthAdjust="spacingAndGlyphs">8 Nov 20:00</text>
<text x="1152.3" y="1034" textLength="51.0" lengthAdjust="spacingAndGlyphs">9 Nov 12:00</text>
<text x="1216.3" y="1034" textLength="56.0" lengthAdjust="spacingAndGlyphs">10 Nov 04:00</text>
<text x="1280.3" y="1034" textLength="56.0" lengthAdjust="spacingAndGlyphs">10 Nov 20:00</text>
<text x="1344.3" y="1034" textLength="56.0" lengthAdjust="spacingAndGlyphs">13 Nov 12:00</text>
<text x="1408.3" y="1034" textLength="56.0" lengthAdjust="spacingAndGlyphs">14 Nov 04:00</text>
<text x="1472.3" y="1034" textLength="56.0" lengthAdjust="spacingAndGlyphs">14 Nov 20:00</text>
<text x="1536.3" y="1034" textLength="56.0" lengthAdjust="spacingAndGlyphs">15 Nov 12:00</text>
<text x="1600.3" y="1034" textLength="56.0" lengthAdjust="spacingAndGlyphs">16 Nov 04:00</text>
<text x="1664.3" y="1034" textLength="56.0" lengthAdjust="spacingAndGlyphs">16 Nov 20:00</text>
<text x="1728.3" y="1034" textLength="56.0" lengthAdjust="spacingAndGlyphs">17 Nov 12:00</text>
<text x="1792.3" y="1034" textLength="56.0" lengthAdjust="spacingAndGlyphs">20 Nov 04:00</text>
<text x="1856.3" y="1034" textLength="56.0" lengthAdjust="spacingAndGlyphs">20 Nov 20:00</text>
<text x="1920.3" y="1034" textLength="56.0" lengthAdjust="spacingAndGlyphs">21 Nov 12:00</text>
<text x="1984.3" y="1034" textLength="56.0" lengthAdjust="spacingAndGlyphs">22 Nov 04:00</text>
<text x="2048.3" y="1034" textLength="56.0" lengthAdjust="spacingAndGlyphs">22 Nov 20:00</text>
<text x="2112.3" y="1034" textLength="56.0" lengthAdjust="spacingAndGlyphs">23 Nov 12:00</text>
<text x="2176.3" y="1034" textLength="56.0" lengthAdjust="spacingAndGlyphs">24 Nov 04:00</text>
<text x="46.7" y="15" textLength="141.3" lengthAdjust="spacingAndGlyphs" xml:space="preserve">XAUUSD, H4:  Gold vs US Dollar</text>
<text x="4" y="801" textLength="72.5" lengthAdjust="spacingAndGlyphs">ASH (9,2) 268.33</text>
<text x="4" y="884" textLength="172" lengthAdjust="spacingAndGlyphs">dt_oscillator 90.232 72.327 90.232 72.327</text>
</g>
<text x="3.7" y="1017.8" font-size="20">©</text>
<text x="25.2" y="1017.8" font-size="19.6" font-weight="bold" textLength="260.6" lengthAdjust="spacingAndGlyphs" stroke="#000" stroke-width="0.6">ForexMT4Indicators.com</text>
<g fill="none" stroke-width="1">
<rect x="7" y="9" width="5" height="5" fill="#ffe3d9"/><rect x="13" y="9" width="5" height="5" fill="#cdeaff"/>
<path d="M12.5 6.5 H7 Q5.5 6.5 5.5 8 V15 Q5.5 16.5 7 16.5 H12.5" stroke="#dd332c"/>
<path d="M12.5 6.5 H18 Q19.5 6.5 19.5 8 V15 Q19.5 16.5 18 16.5 H12.5" stroke="#005fa6"/>
<rect x="7" y="8" width="5" height="1" rx="0.5" fill="#dd332c"/>
<rect x="13" y="8" width="5" height="1" rx="0.5" fill="#005fa6"/>
<rect x="7" y="11" width="5" height="1" rx="0.5" fill="#dd332c"/>
<rect x="13" y="11" width="5" height="1" rx="0.5" fill="#005fa6"/>
<rect x="7" y="14" width="5" height="1" rx="0.5" fill="#dd332c"/>
<rect x="13" y="14" width="5" height="1" rx="0.5" fill="#005fa6"/>
<path d="M26.5 7.5 Q26.5 6.5 27.5 6.5 H28.5 Q29.5 6.5 29.5 7.5 V10.5 H31.5 Q32.5 10.5 32.5 11.5 V15.5 Q32.5 16.5 31.5 16.5 H27.5 Q26.5 16.5 26.5 15.5 Z" stroke="#dd332c" fill="#ffe0d6"/>
<path d="M34.5 11.5 Q34.5 10.5 35.5 10.5 H37.5 V7.5 Q37.5 6.5 38.5 6.5 H39.5 Q40.5 6.5 40.5 7.5 V15.5 Q40.5 16.5 39.5 16.5 H35.5 Q34.5 16.5 34.5 15.5 Z" stroke="#005fa6" fill="#bee4fa"/>
<rect x="31.6" y="6.5" width="3.8" height="2" rx="0.6" stroke="#a0a0a0" fill="#fff"/>
</g>
</svg></body></html>
